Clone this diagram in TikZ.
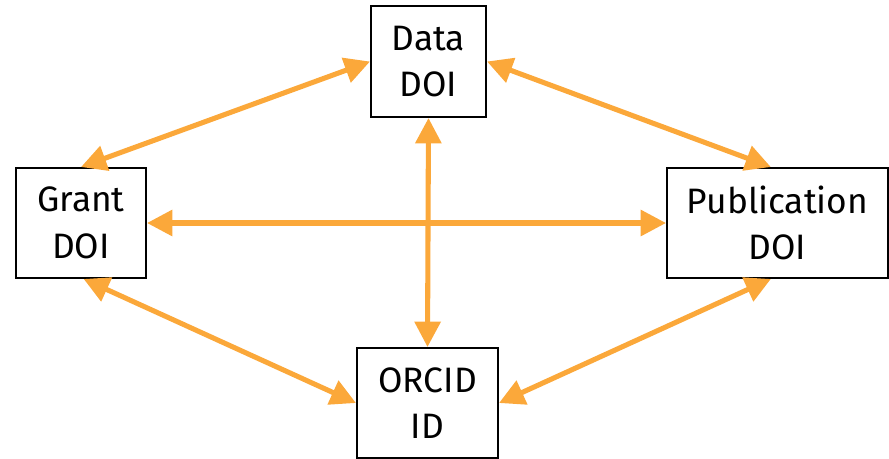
\documentclass[tikz,border=0pt]{standalone}
\usepackage{fontspec}
\setmainfont{Fira Sans}
\usetikzlibrary{arrows.meta}
\definecolor{linkorange}{RGB}{251,168,58}
\tikzset{
  box/.style={draw=black, line width=1.5pt, fill=white, align=center, inner sep=0pt,
    font=\fontsize{26.5}{35}\selectfont},
  link/.style={draw=linkorange, line width=3.8pt, {Triangle[length=19pt,width=19pt]}-{Triangle[length=19pt,width=19pt]}}
}
\begin{document}
\begin{tikzpicture}[x=0.75pt,y=-0.75pt]
\useasboundingbox (0,0) rectangle (889,458);
\node[box, minimum width=86.25pt, minimum height=83.25pt] (data) at (428.5,61.5) {Data\\DOI};
\node[box, minimum width=97.5pt, minimum height=82.5pt] (grant) at (81,223) {Grant\\DOI};
\node[box, minimum width=165.75pt, minimum height=82.5pt] (pub) at (777.5,223) {Publication\\DOI};
\node[box, minimum width=105.75pt, minimum height=82.5pt] (orcid) at (427.5,403) {ORCID\\ID};
\draw[link] (grant.north) -- (data.west);
\draw[link] (data.east) -- ([xshift=-5pt]pub.north);
\draw[link] (grant.east) -- (pub.west);
\draw[link] (data.south) -- (orcid.north);
\draw[link] ([xshift=2pt]grant.south) -- (orcid.west);
\draw[link] ([xshift=-5pt]pub.south) -- (orcid.east);
\end{tikzpicture}
\end{document}
